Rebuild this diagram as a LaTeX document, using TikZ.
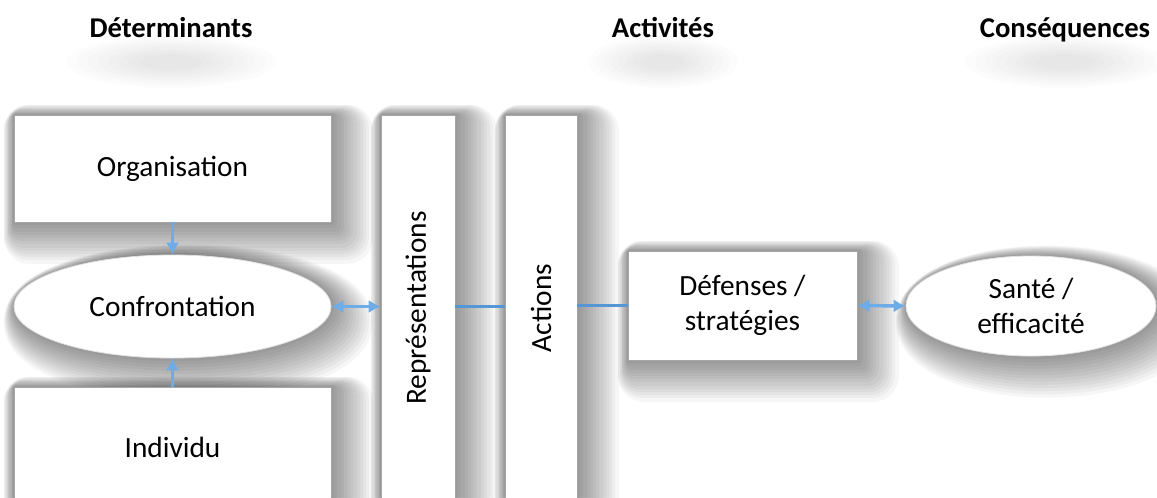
\documentclass[tikz,border=0pt]{standalone}
\usepackage{fontspec}
\setmainfont{Carlito}
\usepackage{graphicx}
\usetikzlibrary{shapes.geometric,arrows.meta}
\definecolor{arrblue}{RGB}{110,172,232}
\definecolor{lineblue}{RGB}{85,150,215}
\tikzset{
  shl/.style={preaction={draw=black, draw opacity=0.034, line width=2*#1pt, line join=round,
     transform canvas={shift={({0.6*#1pt},{-0.6*#1pt})}}}},
  softshadow/.style={shl=1.5, shl=3, shl=4.5, shl=6, shl=7.5, shl=9, shl=10.5,
     shl=12, shl=13.5, shl=15, shl=16.5, shl=18, shl=19.5},
  box/.style={draw=black!35, line width=0.6pt, fill=white, inner sep=0pt, softshadow,
    font=\fontsize{22}{26}\selectfont, align=center},
  oval/.style={box, ellipse, draw=black!12},
  header/.style={font=\fontsize{21.5}{25}\selectfont\bfseries, inner sep=0pt, anchor=base},
  blob/.style={fill=black, opacity=0.012},
  dbl/.style={draw=arrblue, line width=2.6pt, {Latex[length=9pt,width=10pt]}-{Latex[length=9pt,width=10pt]}},
  sgl/.style={draw=arrblue, line width=2.6pt, -{Latex[length=9pt,width=10pt]}},
  plain/.style={draw=lineblue, line width=2.3pt}
}
\begin{document}
\begin{tikzpicture}[x=0.75pt, y=-0.75pt]
\fill[white] (0,0) rectangle (1157,497);
\useasboundingbox (0,0) rectangle (1157,497);
% faint blobs under headers
\foreach \cx/\w in {171/210, 663/150, 1065/200}{
  \foreach \s in {1.0,0.9,0.8,0.7,0.6,0.5,0.4,0.3}{
    \fill[blob] (\cx,62) ellipse ({\s*\w/2} and {\s*26});
  }
}
\node[header] (h1) at (171,37) {Déterminants};
\node[header] (h2) at (663,37) {Activités};
\node[header] (h3) at (1065,37) {Conséquences};
\node[box, minimum width=317*0.75pt, minimum height=107*0.75pt] (org) at (172.5,168.5) {Organisation};
\node[oval, minimum width=317*0.75pt, minimum height=103*0.75pt] (conf) at (172.5,306.5) {Confrontation};
\node[box, minimum width=317*0.75pt, minimum height=120*0.75pt] (ind) at (172.5,447) {Individu};
\node[box, minimum width=74*0.75pt, minimum height=386*0.75pt] (rep) at (418,308) {\rotatebox{90}{Représentations}};
\node[box, minimum width=72*0.75pt, minimum height=386*0.75pt] (act) at (541,308) {\rotatebox{90}{Actions}};
\node[box, minimum width=229*0.75pt, minimum height=109*0.75pt] (def) at (742.5,305.5) {Défenses /\\stratégies};
\node[oval, minimum width=250*0.75pt, minimum height=100*0.75pt] (san) at (1031,306) {Santé /\\efficacité};
\draw[sgl] (org) -- (conf);
\draw[sgl] (ind) -- (conf);
\draw[dbl] (conf.east) -- (conf.east -| rep.west);
\draw[plain] (rep.east |- conf.east) -- (act.west |- conf.east);
\draw[plain] (act.east |- def.west) -- (def.west);
\draw[dbl] (def.east) -- (san.west);
\end{tikzpicture}
\end{document}
